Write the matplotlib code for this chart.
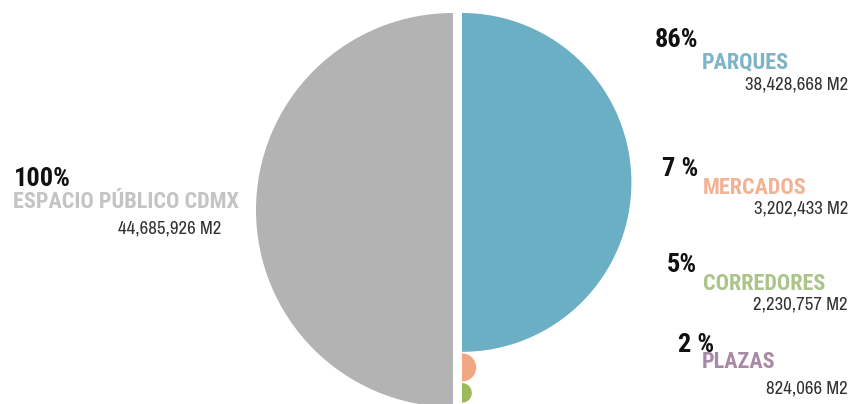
import matplotlib.pyplot as plt
from matplotlib.patches import Wedge

# data
total_label = "ESPACIO PÚBLICO CDMX"
total_m2 = 44685926
total_pct = "100%"

categories = ["PARQUES", "MERCADOS", "CORREDORES", "PLAZAS"]
areas_m2 = [38428668, 3202433, 2230757, 824066]
pct_labels = ["86%", "7 %", "5%", "2 %"]

colors = ["#6aafc3", "#f0a782", "#9cba5a", "#8d6c8d"]
text_colors = ["#7db4c8", "#f0b394", "#aac489", "#a98aa6"]
gray = "#b3b3b3"

# condensed faces like the original, fall back to the default if missing
FONT = ["Archivo Narrow", "Liberation Sans Narrow", "DejaVu Sans"]
BOLD = ["Roboto Condensed", "Barlow Condensed", "Saira SemiCondensed", "DejaVu Sans"]

fig = plt.figure(figsize=(8.51, 4.04), dpi=100)
ax = fig.add_axes([0, 0, 1, 1])
ax.set_xlim(0, 851)
ax.set_ylim(404, 0)
ax.set_aspect("equal")
ax.axis("off")

# big grey half = total, radius scales linearly with area
R = 197
cx_left, cx_right, top = 453, 462, 13
ax.add_patch(Wedge((cx_left, top + R), R, 90, 270, color=gray, lw=0))

y = top
gap = 1.5
for val, col in zip(areas_m2, colors):
    r = R * val / total_m2
    ax.add_patch(Wedge((cx_right, y + r), r, -90, 90, color=col, lw=0))
    y += 2 * r + gap

# left labels
ax.text(14, 179, total_pct, fontsize=19, fontweight="bold", color="#111111",
        family=BOLD, va="center", ha="left")
ax.text(13, 202, total_label, fontsize=16, fontweight="bold", color="#c4c4c4",
        family=BOLD, va="center", ha="left")
ax.text(221, 229, f"{total_m2:,} M2", fontsize=13.5, color="#333333",
        family=FONT, va="center", ha="right")

# right labels
pct_pos = [(655, 40), (662, 169), (667, 265), (678, 345)]
cat_pos = [(702, 62), (703, 188), (703, 284), (702, 362)]
val_y = [85, 208, 304, 388]

for i, cat in enumerate(categories):
    px, py = pct_pos[i]
    ax.text(px, py, pct_labels[i], fontsize=19, fontweight="bold", color="#111111",
            family=BOLD, va="center", ha="left")
    qx, qy = cat_pos[i]
    ax.text(qx, qy, cat, fontsize=16, fontweight="bold", color=text_colors[i],
            family=BOLD, va="center", ha="left")
    ax.text(848, val_y[i], f"{areas_m2[i]:,} M2", fontsize=13.5, color="#333333",
            family=FONT, va="center", ha="right")

fig.savefig("out.png", dpi=100)
